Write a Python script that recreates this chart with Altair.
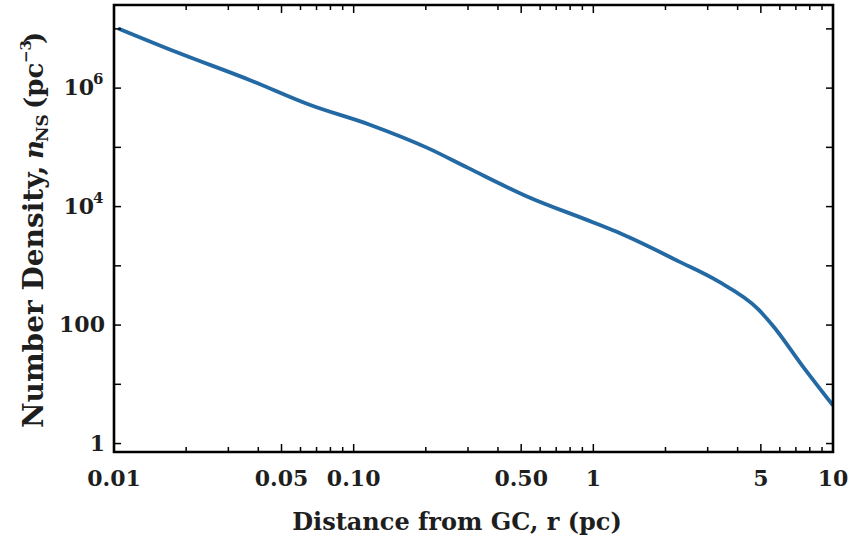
import altair as alt
import pandas as pd

# ---- data ----
r_pc = [0.0104, 0.0183, 0.037, 0.0659, 0.1175, 0.203, 0.30, 0.532, 1.0, 1.30, 2.27, 3.31, 4.87, 5.68, 7.36, 10.0]
n_ns = [1.02e7, 4.03e6, 1.36e6, 5.18e5, 2.39e5, 9.8e4, 4.5e4, 1.47e4, 5.4e3, 3.5e3, 1.19e3, 5.5e2, 1.86e2, 9.2e1, 2.2e1, 4.4]

x_major = [0.01, 0.05, 0.1, 0.5, 1, 5, 10]
x_major_labels = ["0.01", "0.05", "0.10", "0.50", "1", "5", "10"]
x_minor = [0.02, 0.03, 0.04, 0.06, 0.07, 0.08, 0.09,
           0.2, 0.3, 0.4, 0.6, 0.7, 0.8, 0.9,
           2, 3, 4, 6, 7, 8, 9]
y_ticks = [1, 10, 100, 1e3, 1e4, 1e5, 1e6, 1e7]
y_plain_vals = [1, 100]
y_plain_labels = ["1", "100"]
y_pow_vals = [1e4, 1e6]
y_pow_exp = ["4", "6"]

W, H = 719, 447
FONT = "DejaVu Serif"
LINE = "#2369a3"
INK = "#1e1e1e"

xs = alt.Scale(type="log", domain=[0.01, 10], nice=False)
ys = alt.Scale(type="log", domain=[0.72, 2.53e7], nice=False)

curve = pd.DataFrame({"r": r_pc, "n": n_ns})

line = alt.Chart(curve).mark_line(color=LINE, strokeWidth=3.8, clip=True,
                                  interpolate="monotone").encode(
    x=alt.X("r:Q", scale=xs, axis=None),
    y=alt.Y("n:Q", scale=ys, axis=None),
)

xmaj = pd.DataFrame({"v": x_major, "lab": x_major_labels})
xmin = pd.DataFrame({"v": x_minor})
yt = pd.DataFrame({"v": y_ticks})

def xticks(df, length):
    bot = alt.Chart(df).mark_rule(color="black", strokeWidth=1.5).encode(
        x=alt.X("v:Q", scale=xs), y=alt.value(H), y2=alt.value(H - length))
    top = alt.Chart(df).mark_rule(color="black", strokeWidth=1.5).encode(
        x=alt.X("v:Q", scale=xs), y=alt.value(0), y2=alt.value(length))
    return bot + top

yl = alt.Chart(yt).mark_rule(color="black", strokeWidth=1.5).encode(
    y=alt.Y("v:Q", scale=ys), x=alt.value(0), x2=alt.value(7))
yr = alt.Chart(yt).mark_rule(color="black", strokeWidth=1.5).encode(
    y=alt.Y("v:Q", scale=ys), x=alt.value(W), x2=alt.value(W - 7))

# frame
frame = alt.Chart(pd.DataFrame({"a": [0]})).mark_rect(
    fill=None, stroke="black", strokeWidth=2.6
).encode(x=alt.value(0), x2=alt.value(W), y=alt.value(0), y2=alt.value(H))

xlab = alt.Chart(xmaj).mark_text(font=FONT, fontWeight="bold", fontSize=22,
                                 baseline="top", align="center", color=INK).encode(
    x=alt.X("v:Q", scale=xs), y=alt.value(H + 17), text="lab:N")

yplain = alt.Chart(pd.DataFrame({"v": y_plain_vals, "lab": y_plain_labels})).mark_text(
    font=FONT, fontWeight="bold", fontSize=22, baseline="middle", align="right", color=INK
).encode(y=alt.Y("v:Q", scale=ys), x=alt.value(-9), text="lab:N")

ypow_df = pd.DataFrame({"v": y_pow_vals, "b": ["10", "10"], "e": y_pow_exp})
ypow_b = alt.Chart(ypow_df).mark_text(
    font=FONT, fontWeight="bold", fontSize=22, baseline="middle", align="right", color=INK
).encode(y=alt.Y("v:Q", scale=ys), x=alt.value(-20), text="b:N")
ypow_e = alt.Chart(ypow_df).mark_text(
    font=FONT, fontWeight="bold", fontSize=15, baseline="middle", align="left", dy=-9, color=INK
).encode(y=alt.Y("v:Q", scale=ys), x=alt.value(-21), text="e:N")

one = pd.DataFrame({"a": [0]})

def txt(s, x, y, size, angle=0, align="left", style="normal", baseline="alphabetic"):
    return alt.Chart(one).mark_text(
        text=s, font=FONT, fontWeight="bold", fontSize=size, angle=angle,
        align=align, baseline=baseline, fontStyle=style, color=INK
    ).encode(x=alt.value(x), y=alt.value(y))

LX = -71  # baseline x of y title (plot coords)
ytitle = (
    txt("Number Density,", LX, 423, 28, angle=270)
    + txt("n", LX, 154, 26, angle=270, style="italic")
    + txt("NS", LX + 5, 137, 17, angle=270)
    + txt("(pc", LX, 104, 26, angle=270)
    + txt("\u22123", LX - 12, 58, 15, angle=270)
    + txt(")", LX, 39, 26, angle=270)
)
xtitle = txt("Distance from GC, r (pc)", 343, 525, 24, align="center")

chart = alt.layer(
    line, xticks(xmaj, 8), xticks(xmin, 5), yl, yr, frame,
    xlab, yplain, ypow_b, ypow_e, ytitle, xtitle
).properties(
    width=W, height=H,
    autosize=alt.AutoSizeParams(type="none"),
    padding={"left": 114, "top": 5, "right": 25, "bottom": 90},
).configure(background="white").configure_view(strokeWidth=0)

chart.save("out.html", embed_options={"renderer": "svg", "actions": False})
